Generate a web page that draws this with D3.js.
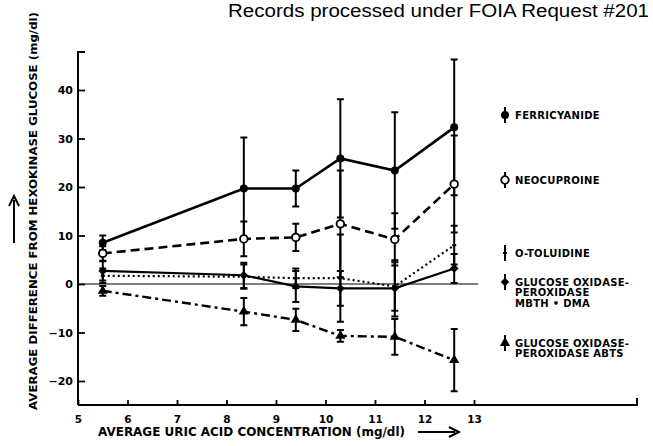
<!DOCTYPE html>
<html>
<head>
<meta charset="utf-8">
<script src="https://cdn.jsdelivr.net/npm/d3@7"></script>
<style>
  html, body { margin: 0; padding: 0; background: #fff; }
  svg { display: block; }
  text { font-family: "DejaVu Sans", sans-serif; font-weight: bold; fill: #000; }
</style>
</head>
<body>
<svg id="chart"></svg>
<script>
// average uric acid concentration (mg/dl) of each group
const uricAcid = [5.5, 8.35, 9.4, 10.3, 11.4, 12.6];

// average difference from hexokinase glucose (mg/dl), with error bars
const ferricyanide = [8.5, 19.7, 19.7, 25.9, 23.4, 32.3];
const ferricyanideErr = [1.5, 10.5, 3.7, 12.2, 12.0, 14.0];
const neocuproine = [6.3, 9.3, 9.6, 12.4, 9.2, 20.6];
const neocuproineErr = [1.5, 3.6, 2.8, 11.0, 5.4, 10.0];
const oToluidine = [1.7, 1.5, 1.2, 1.2, -0.5, 8.0];
const oToluidineErr = [1.5, 2.5, 2.0, 9.0, 5.0, 4.0];
const mbthDma = [2.7, 1.8, -0.5, -0.9, -0.9, 3.2];
const mbthDmaErr = [2.0, 2.6, 3.2, 3.6, 5.8, 3.0];
const abts = [-1.4, -5.7, -7.4, -10.7, -10.9, -15.7];
const abtsErr = [1.0, 2.8, 2.3, 1.2, 3.7, 6.4];

const xTicks = [5, 6, 7, 8, 9, 10, 11, 12, 13];
const yTicks = [-20, -10, 0, 10, 20, 30, 40];

const legendLabels = [
    ["FERRICYANIDE"],
    ["NEOCUPROINE"],
    ["O-TOLUIDINE"],
    ["GLUCOSE OXIDASE-", "PEROXIDASE", "MBTH \u2022 DMA"],
    ["GLUCOSE OXIDASE-", "PEROXIDASE ABTS"]
];

const width = 653, height = 446;

const svg = d3.select("#chart")
    .attr("width", width)
    .attr("height", height);

const x = d3.scaleLinear().domain([5, 13]).range([78, 474]);
const y = d3.scaleLinear().domain([-20, 40]).range([381, 90]);
const axisY = 405;

// header stamp
svg.append("text")
    .attr("x", 228).attr("y", 16.5)
    .attr("textLength", 421).attr("lengthAdjust", "spacingAndGlyphs")
    .style("font-family", "'Liberation Sans', Arial, sans-serif")
    .style("font-weight", "normal")
    .style("font-size", "18px")
    .text("Records processed under FOIA Request #201");

// y axis
const yAxis = d3.axisLeft(y).tickValues(yTicks).tickSize(-7).tickPadding(5);
const gy = svg.append("g").attr("transform", "translate(78,0)").call(yAxis);
gy.select(".domain").remove();
gy.selectAll("line").attr("stroke-width", 1.8);
gy.selectAll("text").style("font-size", "11px").style("font-family", "'DejaVu Sans', sans-serif");
svg.append("path")
    .attr("d", `M85,52H78V${axisY}`)
    .attr("fill", "none").attr("stroke", "#000").attr("stroke-width", 2);

// x axis
const xAxis = d3.axisBottom(x).tickValues(xTicks).tickSize(-5).tickPadding(11);
const gx = svg.append("g").attr("transform", `translate(0,${axisY})`).call(xAxis);
gx.select(".domain").remove();
gx.selectAll("line").attr("stroke-width", 1.8);
gx.selectAll("text").style("font-size", "10.5px");
svg.append("path")
    .attr("d", `M78,${axisY}H637V${axisY - 7}`)
    .attr("fill", "none").attr("stroke", "#000").attr("stroke-width", 2);

// zero line
svg.append("line")
    .attr("x1", 78).attr("x2", 478)
    .attr("y1", y(0)).attr("y2", y(0))
    .attr("stroke", "#000").attr("stroke-width", 1.2);

// axis titles
svg.append("text")
    .attr("x", 98).attr("y", 436)
    .attr("textLength", 307).attr("lengthAdjust", "spacingAndGlyphs")
    .style("font-size", "11.5px")
    .text("AVERAGE URIC ACID CONCENTRATION (mg/dl)");
svg.append("path")
    .attr("d", "M418,432H455")
    .attr("stroke", "#000").attr("stroke-width", 2);
svg.append("path")
    .attr("d", "M449,427L459,432L449,437")
    .attr("fill", "none").attr("stroke", "#000").attr("stroke-width", 2);

svg.append("text")
    .attr("transform", "translate(37,410) rotate(-90)")
    .attr("textLength", 398).attr("lengthAdjust", "spacingAndGlyphs")
    .style("font-size", "11px")
    .text("AVERAGE DIFFERENCE FROM HEXOKINASE GLUCOSE (mg/dl)");
svg.append("path")
    .attr("d", "M14,243V200")
    .attr("stroke", "#000").attr("stroke-width", 2);
svg.append("path")
    .attr("d", "M9,206L14,196L19,206")
    .attr("fill", "none").attr("stroke", "#000").attr("stroke-width", 2);

// series
const series = [
    { values: ferricyanide, err: ferricyanideErr, dash: null, lw: 2.6, marker: "filled" },
    { values: neocuproine, err: neocuproineErr, dash: "9,5", lw: 2.6, marker: "open" },
    { values: oToluidine, err: oToluidineErr, dash: "2,3", lw: 2.2, marker: "none" },
    { values: mbthDma, err: mbthDmaErr, dash: null, lw: 2.2, marker: "diamond" },
    { values: abts, err: abtsErr, dash: "9,4,3,4", lw: 2.4, marker: "triangle" }
];

const line = d3.line().x(d => x(d[0])).y(d => y(d[1]));

function drawMarker(g, kind, cx, cy) {
    if (kind === "filled") {
        g.append("circle").attr("cx", cx).attr("cy", cy).attr("r", 4).attr("fill", "#000");
    } else if (kind === "open") {
        g.append("circle").attr("cx", cx).attr("cy", cy).attr("r", 3.8)
            .attr("fill", "#fff").attr("stroke", "#000").attr("stroke-width", 1.8);
    } else if (kind === "diamond") {
        g.append("path").attr("transform", `translate(${cx},${cy}) rotate(45)`)
            .attr("d", d3.symbol(d3.symbolSquare, 38)()).attr("fill", "#000");
    } else if (kind === "triangle") {
        g.append("path").attr("transform", `translate(${cx},${cy})`)
            .attr("d", d3.symbol(d3.symbolTriangle, 45)()).attr("fill", "#000");
    } else {
        g.append("path").attr("d", `M${cx - 2},${cy}H${cx + 2}`)
            .attr("stroke", "#000").attr("stroke-width", 2);
    }
}

series.forEach(s => {
    const pts = uricAcid.map((u, i) => [u, s.values[i]]);
    const g = svg.append("g");

    // error bars
    pts.forEach((p, i) => {
        const cx = x(p[0]);
        const top = y(p[1] + s.err[i]), bot = y(p[1] - s.err[i]);
        g.append("path")
            .attr("d", `M${cx},${top}V${bot}M${cx - 3.5},${top}H${cx + 3.5}M${cx - 3.5},${bot}H${cx + 3.5}`)
            .attr("fill", "none").attr("stroke", "#000").attr("stroke-width", 2);
    });

    g.append("path")
        .datum(pts)
        .attr("d", line)
        .attr("fill", "none")
        .attr("stroke", "#000")
        .attr("stroke-width", s.lw)
        .attr("stroke-dasharray", s.dash);

    pts.forEach(p => drawMarker(g, s.marker, x(p[0]), y(p[1])));
});

// legend
const legendY = [115, 180, 253, 282, 343];
legendLabels.forEach((lines, i) => {
    const g = svg.append("g").attr("transform", `translate(505,${legendY[i]})`);
    g.append("path").attr("d", "M0,-8V8").attr("stroke", "#000").attr("stroke-width", 2);
    drawMarker(g, series[i].marker, 0, 0);
    lines.forEach((t, j) => {
        g.append("text")
            .attr("x", 10).attr("y", j * 10.5 + 3.5)
            .style("font-size", "10px")
            .style("letter-spacing", "0.3px")
            .text(t);
    });
});
</script>
</body>
</html>
